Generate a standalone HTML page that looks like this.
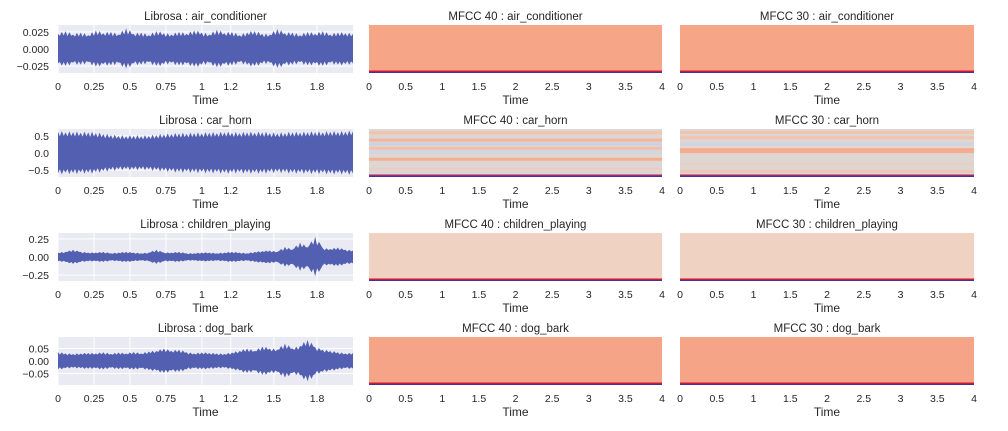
<!DOCTYPE html>
<html><head><meta charset="utf-8"><style>
body{margin:0;background:#fff;width:1008px;height:426px;overflow:hidden}
svg text{font-family:"Liberation Sans","DejaVu Sans",sans-serif;fill:#262626}
</style></head><body>
<svg id="c" width="1008" height="426"></svg>
<script>
const classes=["air_conditioner","car_horn","children_playing","dog_bark"];
const yTicks=[[0.025,0,-0.025],[0.5,0,-0.5],[0.25,0,-0.25],[0.05,0,-0.05]];
const yTickLabels=[["0.025","0.000","\u22120.025"],["0.5","0.0","\u22120.5"],["0.25","0.00","\u22120.25"],["0.05","0.00","\u22120.05"]];
const yMax=[0.035,0.7,0.33,0.096];
const waveTicks=[0,0.25,0.5,0.75,1,1.2,1.5,1.8];
const waveTickLabels=["0","0.25","0.5","0.75","1","1.2","1.5","1.8"];
const specTicks=[0,0.5,1,1.5,2,2.5,3,3.5,4];
const specTickLabels=["0","0.5","1","1.5","2","2.5","3","3.5","4"];
const envAC=[0.022,0.026,0.021,0.024,0.02,0.027,0.023,0.025,0.021,0.03,0.022,0.024,0.02,0.026,0.023,0.021,0.025,0.022,0.027,0.024,0.021,0.028,0.023,0.025,0.02,0.024,0.026,0.022,0.021,0.029,0.023,0.024,0.02,0.025,0.022,0.026,0.021,0.024,0.023,0.022];
const envCH=[0.62,0.6,0.61,0.59,0.6,0.58,0.55,0.52,0.5,0.49,0.5,0.49,0.5,0.52,0.54,0.55,0.57,0.56,0.58,0.57,0.59,0.58,0.6,0.59,0.58,0.6,0.59,0.6,0.58,0.57,0.58,0.6,0.59,0.6,0.61,0.6,0.62,0.61,0.62,0.63];
const envCP=[0.06,0.07,0.1,0.07,0.06,0.06,0.07,0.05,0.06,0.07,0.06,0.05,0.06,0.1,0.06,0.06,0.07,0.05,0.05,0.06,0.06,0.05,0.06,0.07,0.06,0.05,0.07,0.08,0.09,0.07,0.14,0.1,0.2,0.13,0.28,0.12,0.11,0.13,0.1,0.09];
const envDB=[0.035,0.03,0.028,0.03,0.032,0.03,0.035,0.028,0.034,0.03,0.036,0.03,0.038,0.04,0.05,0.04,0.045,0.035,0.03,0.034,0.032,0.03,0.028,0.034,0.04,0.05,0.04,0.058,0.05,0.045,0.07,0.05,0.06,0.085,0.055,0.045,0.04,0.035,0.03,0.032];
const envs=[envAC,envCH,envCP,envDB];
const specBase=["#f7a587","#ddd6d3","#efd2c2","#f6a487"];
const bandsCH40=[[0.05,"#f2c3ad"],[0.2,"#f5b398"],[0.28,"#cbd2e6"],[0.37,"#f2c0aa"],[0.45,"#d2d6e4"],[0.6,"#f7ad90"],[0.8,"#e6cfc6"]];
const bandsCH30=[[0.04,"#f2c3ad"],[0.15,"#f2c4ae"],[0.28,"#cfd4e5"],[0.4,"#f6a98a"],[0.44,"#f7ac8f"],[0.7,"#e6cfc6"],[0.85,"#efc5b3"]];
const ns="http://www.w3.org/2000/svg",svg=document.getElementById('c');
function el(t,a,p){const e=document.createElementNS(ns,t);for(const k in a)e.setAttribute(k,a[k]);(p||svg).appendChild(e);return e;}
function txt(x,y,s,size,anchor,p){const t=el('text',{x:x,y:y,'font-size':size,'text-anchor':anchor},p);t.textContent=s;return t;}
const rowsY=[25,129,233,337],H=48;
const cols=[[58,353,"Librosa"],[369,662,"MFCC 40"],[680,974,"MFCC 30"]];
for(let r=0;r<4;r++){
 const y0=rowsY[r];
 for(let c=0;c<3;c++){
  const [x0,x1,nm]=cols[c];
  const g=el('g',{});
  
  
  const tt=txt((x0+x1)/2,y0-5,nm+" : "+classes[r],11.5,'middle',g);
  
  const xl=txt((x0+x1)/2,y0+H+31,"Time",12,'middle',g);
  
  const xmax=c==0?2.05:4;
  const sx=v=>x0+(v/xmax)*(x1-x0);
  const ticks=c==0?waveTicks:specTicks,labs=c==0?waveTickLabels:specTickLabels;
  if(c==0){
   el('rect',{x:x0,y:y0,width:x1-x0,height:H,fill:'#eaeaf2'},g);
   const sy=v=>y0+H/2-(v/yMax[r])*(H/2);
   ticks.forEach(t=>el('line',{x1:sx(t),x2:sx(t),y1:y0,y2:y0+H,stroke:'#fff','stroke-width':1},g));
   yTicks[r].forEach((t,i)=>{el('line',{x1:x0,x2:x1,y1:sy(t),y2:sy(t),stroke:'#fff','stroke-width':1},g);
     const l=txt(x0-9,sy(t)+4,yTickLabels[r][i],10.5,'end',g);});
   const env=envs[r],n=env.length,seg=(x1-x0)/(n-1);let up=[],dn=[];
   env.forEach((a,i)=>{const x=x0+i*seg;
     up.push(x+','+sy(a));dn.unshift(x+','+sy(-a*0.95));
     if(i<n-1){const nx=(a+env[i+1])/2;
       up.push((x+seg*0.25)+','+sy(nx*0.8));up.push((x+seg*0.5)+','+sy(nx*1.05));up.push((x+seg*0.75)+','+sy(nx*0.82));
       dn.unshift((x+seg*0.25)+','+sy(-nx*0.78));dn.unshift((x+seg*0.5)+','+sy(-nx*1.02));dn.unshift((x+seg*0.75)+','+sy(-nx*0.8));}
   });
   const p=el('polygon',{points:up.concat(dn).join(' '),fill:'#5360b2'},g);
   
  }else{
   el('rect',{x:x0,y:y0,width:x1-x0,height:H,fill:specBase[r]},g);
   if(r==1){(c==1?bandsCH40:bandsCH30).forEach(b=>el('rect',{x:x0,y:y0+b[0]*H,width:x1-x0,height:3,fill:b[1]},g));}
   el('rect',{x:x0,y:y0+H-2.5,width:x1-x0,height:1.5,fill:r==1?'#a02a6a':'#c81b3a'},g);
   el('rect',{x:x0,y:y0+H-1,width:x1-x0,height:1,fill:'#4a2ea0'},g);
  }
  ticks.forEach((t,i)=>{const l=txt(sx(t),y0+H+17,labs[i],10.5,'middle',g);});
 }
}
</script></body></html>
